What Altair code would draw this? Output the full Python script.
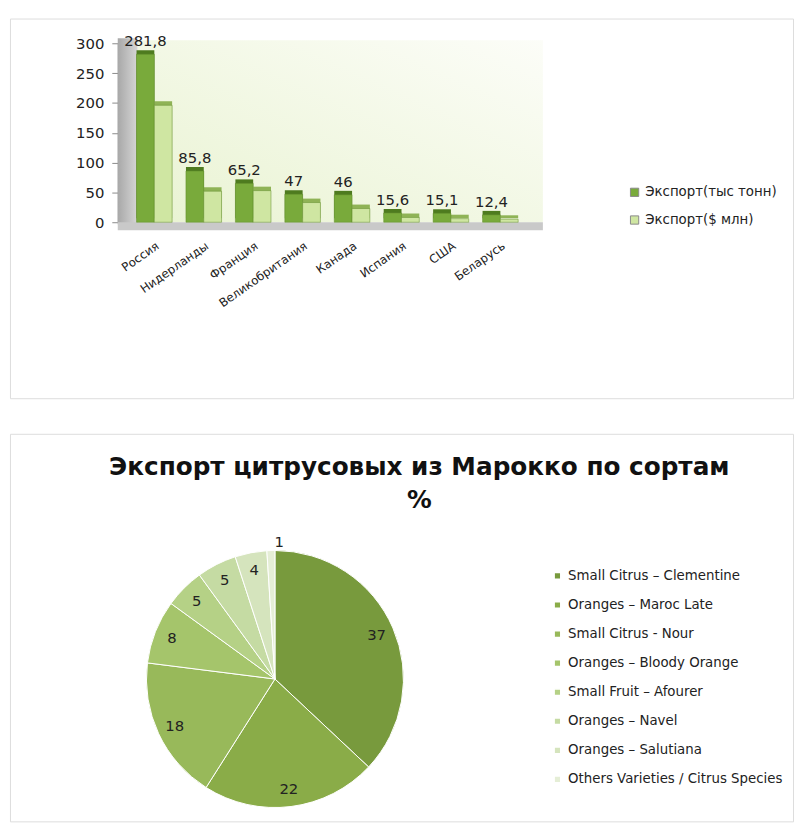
import altair as alt
import pandas as pd

# ---------------- data ----------------
countries = ["Россия", "Нидерланды", "Франция", "Великобритания", "Канада", "Испания", "США", "Беларусь"]
export_tons = [281.8, 85.8, 65.2, 47, 46, 15.6, 15.1, 12.4]
export_usd = [196, 52, 53, 33, 23, 8, 6, 5]
series_names = ["Экспорт(тыс тонн)", "Экспорт($ млн)"]
y_ticks = [0, 50, 100, 150, 200, 250, 300]

varieties = [
    "Small Citrus – Clementine",
    "Oranges – Maroc Late",
    "Small Citrus - Nour",
    "Oranges – Bloody Orange",
    "Small Fruit – Afourer",
    "Oranges – Navel",
    "Oranges – Salutiana",
    "Others Varieties / Citrus Species",
]
shares = [37, 22, 18, 8, 5, 5, 4, 1]
pie_title = ["Экспорт цитрусовых из Марокко по сортам", "%"]

# ---------------- styles ----------------
FONT = "DejaVu Sans"
dark_front, dark_side = "#79aa3b", "#4e7b1f"
light_front, light_side = "#cfe6a2", "#8fb356"
pie_colors = ["#789a3d", "#8aac48", "#98b95a", "#a5c56b", "#b5d186", "#c5dba3", "#d5e4bd", "#e5eed6"]

W = 792
H1 = 384
H2 = 392

rows = []
for i, c in enumerate(countries):
    rows.append({"country": c, "series": series_names[0], "value": export_tons[i], "idx": i})
    rows.append({"country": c, "series": series_names[1], "value": export_usd[i], "idx": i})
bars_df = pd.DataFrame(rows)
one = pd.DataFrame({"k": [0]})

x_enc = alt.X(
    "country:N",
    sort=countries,
    scale=alt.Scale(range=[121, 521], paddingInner=0.28, paddingOuter=0.14),
    axis=alt.Axis(
        title=None, offset=-178, labelAngle=-35, labelFontSize=12, labelColor="#222",
        labelFont=FONT, tickBand="extent", domain=False, tickColor="#8a8a8a",
        tickSize=6, labelPadding=12,
    ),
)
y_enc = alt.Y(
    "value:Q",
    scale=alt.Scale(domain=[0, 300], range=[206, 25], nice=False),
    axis=alt.Axis(
        title=None, values=y_ticks, offset=-109, grid=False, domainColor="#8a8a8a",
        tickColor="#8a8a8a", tickSize=6, labelFontSize=15, labelColor="#222",
        labelFont=FONT, labelPadding=8,
    ),
)
xoff_enc = alt.XOffset("series:N", sort=series_names, scale=alt.Scale(domain=series_names))

back_wall = alt.Chart(one).mark_rect(
    fill=alt.Gradient(
        gradient="linear",
        stops=[alt.GradientStop(color="#e9f3d2", offset=0), alt.GradientStop(color="#fcfdf8", offset=1)],
        x1=0, y1=1, x2=1, y2=0,
    )
).encode(x=alt.value(129), x2=alt.value(539), y=alt.value(22), y2=alt.value(206))

left_wall = alt.Chart(one).mark_rect(
    fill=alt.Gradient(
        gradient="linear",
        stops=[alt.GradientStop(color="#a8a8a8", offset=0), alt.GradientStop(color="#d6d6d6", offset=1)],
        x1=0, y1=0, x2=1, y2=0,
    )
).encode(x=alt.value(109), x2=alt.value(129), y=alt.value(20), y2=alt.value(208))

floor = alt.Chart(one).mark_rect(fill="#c9c9c9").encode(
    x=alt.value(109), x2=alt.value(539), y=alt.value(206), y2=alt.value(214)
)

side_bars = alt.Chart(bars_df).mark_bar(xOffset=4, yOffset=-4, y2Offset=-4).encode(
    x=x_enc, xOffset=xoff_enc, y=y_enc,
    fill=alt.condition(alt.datum.series == series_names[0], alt.value(dark_side), alt.value(light_side)),
)

front_bars = alt.Chart(bars_df).mark_bar(stroke="#5f8a2a", strokeWidth=0.5).encode(
    x=x_enc, xOffset=xoff_enc, y=y_enc,
    color=alt.Color(
        "series:N", sort=series_names,
        scale=alt.Scale(domain=series_names, range=[dark_front, light_front]),
        legend=alt.Legend(
            title=None, orient="none", legendX=625, legendY=169, symbolType="square",
            symbolSize=70, symbolStrokeColor="#8a8a8a", symbolStrokeWidth=1,
            labelFontSize=13.5, labelFont=FONT, labelColor="#222", rowPadding=13, labelLimit=300,
        ),
    ),
)

value_labels = alt.Chart(bars_df).transform_filter(
    alt.datum.series == series_names[0]
).transform_calculate(
    label="replace(toString(datum.value), '.', ',')"
).mark_text(dy=-13, fontSize=15, font=FONT, color="#222").encode(
    x=x_enc, xOffset=xoff_enc, y=y_enc, text="label:N"
)

top = alt.layer(back_wall, left_wall, floor, side_bars, front_bars, value_labels).properties(
    width=W, height=H1
)

# ---------------- pie ----------------
pie_df = pd.DataFrame({"variety": varieties, "share": shares, "idx": list(range(len(shares)))})
CX, CY = 268, 248

title1 = alt.Chart(pd.DataFrame({"t": [pie_title[0]]})).mark_text(
    fontSize=25, fontWeight="bold", font=FONT, color="#111", align="center", baseline="middle"
).encode(text="t:N", x=alt.value(414), y=alt.value(34))
title2 = alt.Chart(pd.DataFrame({"t": [pie_title[1]]})).mark_text(
    fontSize=25, fontWeight="bold", font=FONT, color="#111", align="center", baseline="middle"
).encode(text="t:N", x=alt.value(414), y=alt.value(67))

arcs = alt.Chart(pie_df).mark_arc(outerRadius=130, stroke="#ffffff", strokeWidth=1).encode(
    theta=alt.Theta("share:Q", stack=True),
    order=alt.Order("idx:Q"),
    color=alt.Color(
        "variety:N", sort=varieties,
        scale=alt.Scale(domain=varieties, range=pie_colors),
        legend=alt.Legend(
            title=None, orient="none", legendX=547, legendY=137, symbolType="square",
            symbolSize=45, labelFontSize=13.5, labelFont=FONT, labelColor="#222",
            rowPadding=14.4, labelLimit=235,
        ),
    ),
    x=alt.value(CX), y=alt.value(CY),
)

pie_labels = alt.Chart(pie_df).transform_calculate(
    r="datum.share < 2 ? 139 : 112"
).mark_text(fontSize=15, font=FONT, color="#222").encode(
    theta=alt.Theta("share:Q", stack=True),
    order=alt.Order("idx:Q"),
    radius=alt.Radius("r:Q", scale=None),
    text="share:Q",
    x=alt.value(CX), y=alt.value(CY),
)

bottom = alt.layer(title1, title2, arcs, pie_labels).properties(width=W, height=H2)

chart = alt.vconcat(top, bottom, spacing=34).resolve_scale(color="independent").properties(
    padding={"left": 0, "top": 5, "right": 0, "bottom": 0}
).configure_view(stroke="#c3c3c3", strokeWidth=2).configure(font=FONT)

chart.save("out.html", embed_options={"renderer": "svg", "actions": False})
